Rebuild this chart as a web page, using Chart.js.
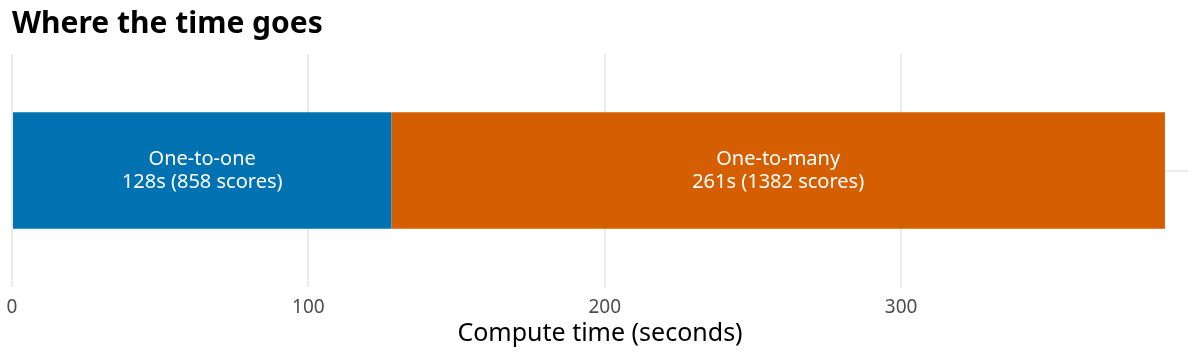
<!DOCTYPE html>
<html>
<head>
<meta charset="utf-8">
<script src="https://cdn.jsdelivr.net/npm/chart.js@4"></script>
<style>
  html, body { margin: 0; padding: 0; background: #fff; }
  #wrap { width: 1200px; height: 360px; }
</style>
</head>
<body>
<div id="wrap"><canvas id="chart"></canvas></div>
<script>
// Data
const categories = ['Compute'];
const segmentNames = ['One-to-one', 'One-to-many'];
const seconds = [128, 261];
const scores = [858, 1382];
const segmentColors = ['#0072B2', '#D55E00'];
const xTicks = [0, 100, 200, 300];

const total = seconds.reduce((a, b) => a + b, 0);

// Write name + time/scores in the middle of each segment
const segmentLabels = {
    id: 'segmentLabels',
    afterDatasetsDraw(chart) {
        const ctx = chart.ctx;
        ctx.save();
        ctx.fillStyle = '#ffffff';
        ctx.textAlign = 'center';
        ctx.textBaseline = 'middle';
        ctx.font = '20px "Noto Sans"';
        chart.data.datasets.forEach((ds, i) => {
            const bar = chart.getDatasetMeta(i).data[0];
            const cx = (bar.x + bar.base) / 2;
            ctx.fillText(segmentNames[i], cx, bar.y - 11);
            ctx.fillText(seconds[i] + 's (' + scores[i] + ' scores)', cx, bar.y + 12);
        });
        ctx.restore();
    }
};

const chart = new Chart(document.getElementById('chart'), {
    type: 'bar',
    data: {
        labels: categories,
        datasets: segmentNames.map((name, i) => ({
            label: name,
            data: [seconds[i]],
            backgroundColor: segmentColors[i],
            borderWidth: 0,
            categoryPercentage: 1,
            barPercentage: 0.5
        }))
    },
    options: {
        indexAxis: 'y',
        responsive: true,
        maintainAspectRatio: false,
        animation: false,
        layout: { padding: { left: 12, right: 12, top: 0, bottom: 0 } },
        plugins: {
            legend: { display: false },
            tooltip: { enabled: false },
            title: {
                display: true,
                text: 'Where the time goes',
                align: 'start',
                color: '#000',
                font: { family: 'Noto Sans', size: 30, weight: 'bold' },
                padding: { top: 6, bottom: 12 }
            }
        },
        scales: {
            x: {
                stacked: true,
                min: 0,
                max: total * 1.02,
                afterBuildTicks: scale => {
                    scale.ticks = xTicks.map(v => ({ value: v }));
                },
                afterFit: scale => {
                    scale.height = 73;
                    scale.paddingLeft = 0;
                    scale.paddingRight = 0;
                },
                grid: { color: '#ebebeb', lineWidth: 2, drawTicks: false },
                border: { display: false },
                ticks: {
                    color: '#4d4d4d',
                    padding: 9,
                    maxRotation: 0,
                    font: { family: 'Noto Sans', size: 19 }
                },
                title: {
                    display: true,
                    text: 'Compute time (seconds)',
                    color: '#000',
                    font: { family: 'Noto Sans', size: 25 },
                    padding: { top: 0, bottom: 11 }
                }
            },
            y: {
                stacked: true,
                grid: { color: '#ebebeb', lineWidth: 2, drawTicks: false, offset: false },
                border: { display: false },
                ticks: { display: false }
            }
        }
    },
    plugins: [segmentLabels]
});
</script>
</body>
</html>
